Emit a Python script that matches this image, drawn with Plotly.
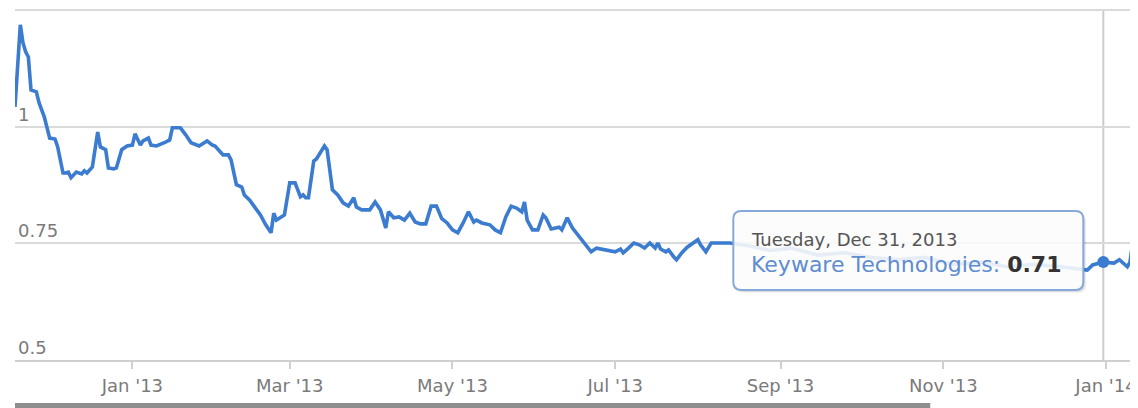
import pandas as pd
import plotly.graph_objects as go

SERIES_NAME = "Keyware Technologies"

dates = [
    "2012-11-18", "2012-11-20", "2012-11-21", "2012-11-22", "2012-11-23", "2012-11-24",
    "2012-11-26", "2012-11-27", "2012-11-29", "2012-12-01", "2012-12-03", "2012-12-04",
    "2012-12-06", "2012-12-07", "2012-12-08", "2012-12-09", "2012-12-11", "2012-12-13",
    "2012-12-14", "2012-12-15", "2012-12-17", "2012-12-19", "2012-12-20", "2012-12-22",
    "2012-12-23", "2012-12-25", "2012-12-26", "2012-12-28", "2012-12-30", "2013-01-01",
    "2013-01-02", "2013-01-04", "2013-01-05", "2013-01-07", "2013-01-08", "2013-01-10",
    "2013-01-13", "2013-01-15", "2013-01-16", "2013-01-19", "2013-01-21", "2013-01-23",
    "2013-01-26", "2013-01-29", "2013-01-31", "2013-02-01", "2013-02-04", "2013-02-06",
    "2013-02-07", "2013-02-09", "2013-02-11", "2013-02-12", "2013-02-14", "2013-02-16",
    "2013-02-18", "2013-02-20", "2013-02-22", "2013-02-23", "2013-02-24", "2013-02-27",
    "2013-03-01", "2013-03-03", "2013-03-05", "2013-03-06", "2013-03-07", "2013-03-08",
    "2013-03-10", "2013-03-11", "2013-03-14", "2013-03-15", "2013-03-17", "2013-03-19",
    "2013-03-21", "2013-03-23", "2013-03-25", "2013-03-26", "2013-03-28", "2013-03-31",
    "2013-04-02", "2013-04-04", "2013-04-06", "2013-04-07", "2013-04-09", "2013-04-11",
    "2013-04-13", "2013-04-15", "2013-04-17", "2013-04-19", "2013-04-21", "2013-04-23",
    "2013-04-25", "2013-04-27", "2013-04-29", "2013-05-01", "2013-05-03", "2013-05-05",
    "2013-05-07", "2013-05-09", "2013-05-10", "2013-05-12", "2013-05-15", "2013-05-17",
    "2013-05-19", "2013-05-21", "2013-05-23", "2013-05-25", "2013-05-27", "2013-05-28",
    "2013-05-29", "2013-05-31", "2013-06-02", "2013-06-04", "2013-06-05", "2013-06-07",
    "2013-06-08", "2013-06-10", "2013-06-11", "2013-06-13", "2013-06-15", "2013-06-17",
    "2013-06-18", "2013-06-20", "2013-06-22", "2013-06-24", "2013-06-26", "2013-06-29",
    "2013-07-01", "2013-07-03", "2013-07-04", "2013-07-06", "2013-07-08", "2013-07-10",
    "2013-07-12", "2013-07-14", "2013-07-16", "2013-07-17", "2013-07-18", "2013-07-20",
    "2013-07-21", "2013-07-23", "2013-07-24", "2013-07-26", "2013-07-28", "2013-08-01",
    "2013-08-02", "2013-08-04", "2013-08-06", "2013-08-08", "2013-08-13", "2013-08-20",
    "2013-08-28", "2013-09-05", "2013-09-15", "2013-09-25", "2013-10-05", "2013-10-15",
    "2013-10-25", "2013-11-05", "2013-11-15", "2013-11-25", "2013-12-05", "2013-12-15",
    "2013-12-22", "2013-12-25", "2013-12-27", "2013-12-31", "2014-01-04", "2014-01-06",
    "2014-01-09", "2014-01-10", "2014-01-11", "2014-01-13",
]

values = [
    1.043, 1.219, 1.180, 1.161, 1.150, 1.079,
    1.075, 1.052, 1.021, 0.976, 0.974, 0.957,
    0.901, 0.901, 0.903, 0.891, 0.903, 0.899,
    0.906, 0.901, 0.914, 0.989, 0.957, 0.951,
    0.912, 0.910, 0.912, 0.951, 0.959, 0.961,
    0.985, 0.961, 0.970, 0.976, 0.961, 0.959,
    0.966, 0.972, 0.998, 0.998, 0.983, 0.966,
    0.959, 0.970, 0.961, 0.959, 0.940, 0.940,
    0.929, 0.876, 0.871, 0.854, 0.843, 0.828,
    0.811, 0.790, 0.773, 0.815, 0.800, 0.811,
    0.880, 0.880, 0.850, 0.854, 0.848, 0.848,
    0.927, 0.931, 0.959, 0.951, 0.865, 0.854,
    0.837, 0.830, 0.848, 0.828, 0.822, 0.822,
    0.839, 0.822, 0.783, 0.818, 0.805, 0.807,
    0.800, 0.815, 0.796, 0.792, 0.792, 0.830,
    0.830, 0.803, 0.794, 0.779, 0.773, 0.794,
    0.818, 0.796, 0.800, 0.794, 0.790, 0.779,
    0.773, 0.807, 0.830, 0.826, 0.818, 0.839,
    0.800, 0.779, 0.779, 0.811, 0.805, 0.781,
    0.783, 0.785, 0.779, 0.805, 0.783, 0.768,
    0.762, 0.747, 0.732, 0.740, 0.738, 0.734,
    0.732, 0.738, 0.730, 0.740, 0.751, 0.747,
    0.740, 0.751, 0.740, 0.751, 0.738, 0.732,
    0.736, 0.721, 0.715, 0.730, 0.742, 0.758,
    0.747, 0.732, 0.751, 0.751, 0.751, 0.745,
    0.735, 0.740, 0.725, 0.730, 0.720, 0.715,
    0.720, 0.705, 0.710, 0.700, 0.705, 0.700,
    0.695, 0.693, 0.704, 0.710, 0.708, 0.715,
    0.700, 0.710, 0.751, 0.768,
]

x_tick_dates = ["2013-01-01", "2013-03-01", "2013-05-01", "2013-07-01",
                "2013-09-01", "2013-11-01", "2014-01-01"]
x_tick_labels = ["Jan '13", "Mar '13", "May '13", "Jul '13", "Sep '13", "Nov '13", "Jan '14"]
y_tick_vals = [0.5, 0.75, 1.0, 1.25]
y_tick_labels = ["0.5", "0.75", "1", ""]
x_range = ["2012-11-18", "2014-01-13"]
y_range = [0.5, 1.255]
hover_date = "2013-12-31"

LINE_COLOR = "#3b7bd0"
FONT = "DejaVu Sans"

hi = dates.index(hover_date)
hover_val = values[hi]
header = pd.Timestamp(hover_date).strftime("%A, %b %d, %Y")

fig = go.Figure()
fig.add_trace(go.Scatter(
    x=dates, y=values, mode="lines",
    line=dict(color=LINE_COLOR, width=3.6),
    hoverinfo="skip", showlegend=False,
))
fig.add_trace(go.Scatter(
    x=[dates[hi]], y=[hover_val], mode="markers",
    marker=dict(color=LINE_COLOR, size=12),
    hoverinfo="skip", showlegend=False,
))

# crosshair
fig.add_shape(type="line", xref="x", yref="paper", x0=hover_date, x1=hover_date,
              y0=0, y1=0.995, line=dict(color="#cccccc", width=2), layer="below")

# scrollbar at bottom
fig.add_shape(type="rect", xref="paper", yref="paper", x0=0, x1=0.815,
              y0=-0.1364, y1=-0.1222, fillcolor="#8e8e8e", line=dict(width=0), layer="above")

# tooltip box anchored to hovered point (pixel sizes)
def rounded(l, r, b, t, rad):
    return (f"M {l+rad},{t} L {r-rad},{t} Q {r},{t} {r},{t-rad} "
            f"L {r},{b+rad} Q {r},{b} {r-rad},{b} L {l+rad},{b} Q {l},{b} {l},{b+rad} "
            f"L {l},{t-rad} Q {l},{t} {l+rad},{t} Z")

for off, col in [(3, "rgba(0,0,0,0.05)"), (2, "rgba(0,0,0,0.07)")]:
    fig.add_shape(type="path", xref="x", yref="y", xsizemode="pixel", ysizemode="pixel",
                  xanchor=hover_date, yanchor=hover_val,
                  path=rounded(-370 + off, -20 + off, -28 - off, 51 - off, 8),
                  fillcolor=col, line=dict(width=0), layer="above")
fig.add_shape(type="path", xref="x", yref="y", xsizemode="pixel", ysizemode="pixel",
              xanchor=hover_date, yanchor=hover_val,
              path=rounded(-370, -20, -28, 51, 8),
              fillcolor="rgba(255,255,255,0.88)", line=dict(color="#86a9da", width=2),
              layer="above")

fig.add_annotation(x=hover_date, y=hover_val, xref="x", yref="y", text=header,
                   showarrow=False, xanchor="left", yanchor="middle", xshift=-354, yshift=23,
                   font=dict(family=FONT, size=18, color="#555555"))
fig.add_annotation(x=hover_date, y=hover_val, xref="x", yref="y",
                   text=f"<span style='color:#5e8dd0'>{SERIES_NAME}: </span><b>{hover_val:.2f}</b>",
                   showarrow=False, xanchor="left", yanchor="middle", xshift=-354, yshift=-2,
                   font=dict(family=FONT, size=22, color="#333333"))

# the page body adds an 8px offset, so the figure is sized to fit the window
fig.update_layout(
    width=1130, height=400,
    margin=dict(l=7, r=0, t=0, b=48),
    paper_bgcolor="white", plot_bgcolor="white",
    font=dict(family=FONT),
    xaxis=dict(
        type="date", range=x_range, tickvals=x_tick_dates, ticktext=x_tick_labels,
        showgrid=False, showline=True, linecolor="#cfcfcf", linewidth=1.5,
        ticks="outside", ticklen=7, tickcolor="#cfcfcf", tickwidth=1.5,
        tickfont=dict(family=FONT, size=18, color="#7a7a7a"), ticklabelstandoff=2,
        zeroline=False, automargin=False,
    ),
    yaxis=dict(
        range=y_range, tickvals=y_tick_vals, ticktext=y_tick_labels,
        showgrid=True, gridcolor="#dadada", gridwidth=1.5, zeroline=False,
        showline=False, ticks="", ticklabelposition="inside top",
        tickfont=dict(family=FONT, size=18, color="#7a7a7a"), automargin=False,
    ),
)

fig.write_html("out.html")
